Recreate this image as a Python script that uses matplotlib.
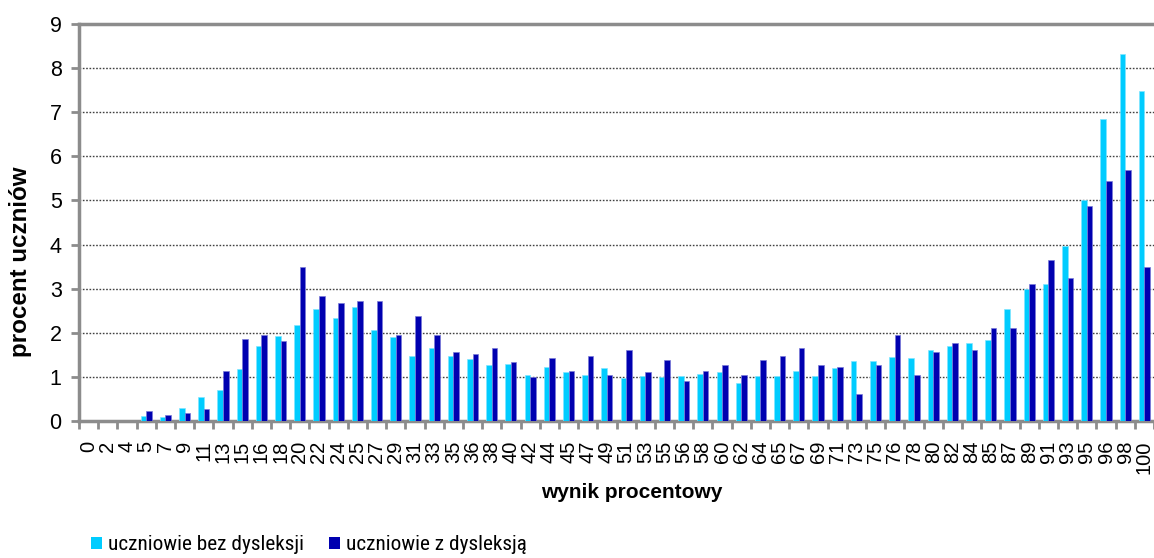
import matplotlib
matplotlib.use("Agg")
import matplotlib.pyplot as plt
import numpy as np
from matplotlib.patches import Patch
from matplotlib import font_manager

categories = ["0", "2", "4", "5", "7", "9", "11", "13", "15", "16", "18", "20", "22", "24",
              "25", "27", "29", "31", "33", "35", "36", "38", "40", "42", "44", "45", "47",
              "49", "51", "53", "55", "56", "58", "60", "62", "64", "65", "67", "69", "71",
              "73", "75", "76", "78", "80", "82", "84", "85", "87", "89", "91", "93", "95",
              "96", "98", "100"]

bez_dysleksji = [0.0, 0.0, 0.0, 0.11, 0.08, 0.29, 0.54, 0.71, 1.18, 1.69, 1.92, 2.17, 2.55, 2.33,
                 2.58, 2.06, 1.90, 1.47, 1.65, 1.47, 1.41, 1.26, 1.30, 1.04, 1.23, 1.10, 1.05,
                 1.21, 0.98, 1.01, 0.99, 1.01, 1.06, 1.11, 0.87, 1.03, 1.03, 1.13, 1.03, 1.21,
                 1.35, 1.35, 1.46, 1.43, 1.60, 1.70, 1.76, 1.84, 2.53, 3.00, 3.10, 3.96, 5.00,
                 6.85, 8.31, 7.48]

z_dysleksja = [0.0, 0.0, 0.0, 0.23, 0.13, 0.18, 0.28, 1.14, 1.86, 1.96, 1.82, 3.49, 2.83, 2.68,
               2.72, 2.72, 1.96, 2.39, 1.96, 1.57, 1.53, 1.66, 1.33, 1.00, 1.42, 1.14, 1.47,
               1.04, 1.62, 1.10, 1.38, 0.90, 1.14, 1.28, 1.04, 1.38, 1.47, 1.66, 1.28, 1.23,
               0.61, 1.28, 1.96, 1.04, 1.57, 1.77, 1.62, 2.10, 2.10, 3.11, 3.64, 3.25, 4.88,
               5.45, 5.70, 3.49]

series_labels = ["uczniowie bez dysleksji", "uczniowie z dysleksją"]
series_colors = ["#00CCFF", "#0000B0"]

# pick a narrow font for the legend if one is installed
installed = {f.name for f in font_manager.fontManager.ttflist}
narrow_candidates = ["Liberation Sans Narrow", "Roboto Condensed", "Open Sans Condensed",
                     "Noto Sans Condensed", "DejaVu Sans Condensed", "Roboto", "Inter"]
legend_font = "Liberation Sans"
for cand in narrow_candidates:
    if cand in installed:
        legend_font = cand
        break

W, H = 1154, 558
fig = plt.figure(figsize=(W / 100, H / 100), dpi=100)
ax = fig.add_axes([79 / W, (558 - 421) / H, 1075 / W, 397 / H])

x = np.arange(len(categories))
bw = 0.29
ax.bar(x - bw / 2, bez_dysleksji, width=bw, color=series_colors[0],
       edgecolor="#7fe6ff", linewidth=0.5, zorder=3)
ax.bar(x + bw / 2, z_dysleksja, width=bw, color=series_colors[1],
       edgecolor="#7a7ad8", linewidth=0.5, zorder=3)

ax.set_xlim(-0.5, len(categories) - 0.5)
ax.set_ylim(0, 9)
ax.set_yticks(range(0, 10))
ax.set_xticks(x)
ax.set_xticklabels(categories, rotation=90, fontsize=14.5, family="Liberation Sans")
ax.set_xticks(np.arange(-0.5, len(categories), 1.0), minor=True)
ax.tick_params(axis="x", which="major", length=0, pad=14)
ax.tick_params(axis="x", which="minor", length=6, width=2, color="#8c8c8c", direction="out")
ax.tick_params(axis="y", length=5.5, width=2, color="#8c8c8c", direction="out", pad=7,
               labelsize=15.5)
for lbl in ax.get_yticklabels():
    lbl.set_family("Liberation Sans")

for yv in range(1, 9):
    ax.axhline(yv, color="#404040", linewidth=1.0, linestyle=(0, (1.2, 1.2)), zorder=1)

for side in ["left", "bottom", "top"]:
    ax.spines[side].set_color("#8c8c8c")
    ax.spines[side].set_linewidth(2.5)
ax.spines["right"].set_visible(False)

fig.text(21 / W, 1 - 262 / H, "procent uczniów", rotation=90, ha="center", va="center",
         fontsize=17.4, fontweight="bold", family="Liberation Sans")
fig.text(632 / W, 1 - 493 / H, "wynik procentowy", ha="center", va="center",
         fontsize=15, fontweight="bold", family="Liberation Sans")

# size the legend font so the first label is roughly 195 px wide
renderer = fig.canvas.get_renderer()
probe = fig.text(0, 0, series_labels[0], family=legend_font, fontsize=16)
wpx = probe.get_window_extent(renderer).width
probe.remove()
leg_size = 16 * 197.0 / wpx
em = leg_size * 100 / 72.0

handles = [Patch(facecolor=c, edgecolor="none") for c in series_colors]
fig.legend(handles, series_labels, loc="center", bbox_to_anchor=(309 / W, 1 - 545 / H),
           ncol=2, frameon=False, handlelength=11 / em,
           handleheight=11 / em, handletextpad=6 / em,
           columnspacing=25 / em, borderaxespad=0, borderpad=0,
           prop={"family": legend_font, "size": leg_size})

fig.savefig("out.png", dpi=100)
